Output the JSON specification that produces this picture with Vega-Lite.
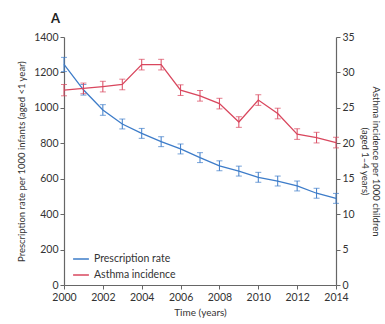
{
  "$schema": "https://vega.github.io/schema/vega-lite/v6.json",
  "autosize": "none",
  "width": 272,
  "height": 248,
  "padding": {"left": 64, "top": 37, "right": 49, "bottom": 39},
  "background": "white",
  "title": {"text": "A", "anchor": "start", "frame": "group", "dx": -13, "offset": 6, "fontSize": 13, "fontWeight": "bold", "font": "Lato", "color": "#222"},
  "config": {
    "view": {"stroke": null},
    "font": "Lato",
    "axis": {"grid": false, "domainColor": "#666", "tickColor": "#666", "domainWidth": 1.2, "tickWidth": 1, "tickSize": 4, "labelFontSize": 10.5, "labelColor": "#333", "titleFontSize": 9.5, "titleFontWeight": "normal", "titleColor": "#333", "labelFont": "Lato", "titleFont": "Lato"},
    "legend": {"labelFont": "Lato", "labelFontSize": 10.5, "labelColor": "#333"}
  },
  "data": {"values": [
    {"year": 2000, "rate": 1245, "rateLo": 1205, "rateHi": 1285, "asthma": 27.5, "asthmaLo": 26.7, "asthmaHi": 28.3},
    {"year": 2001, "rate": 1102, "rateLo": 1072, "rateHi": 1132, "asthma": 27.75, "asthmaLo": 27.0, "asthmaHi": 28.5},
    {"year": 2002, "rate": 988, "rateLo": 958, "rateHi": 1018, "asthma": 28.0, "asthmaLo": 27.25, "asthmaHi": 28.75},
    {"year": 2003, "rate": 909, "rateLo": 881, "rateHi": 937, "asthma": 28.3, "asthmaLo": 27.55, "asthmaHi": 29.05},
    {"year": 2004, "rate": 856, "rateLo": 828, "rateHi": 884, "asthma": 31.1, "asthmaLo": 30.35, "asthmaHi": 31.85},
    {"year": 2005, "rate": 809, "rateLo": 781, "rateHi": 837, "asthma": 31.1, "asthmaLo": 30.35, "asthmaHi": 31.85},
    {"year": 2006, "rate": 768, "rateLo": 740, "rateHi": 796, "asthma": 27.5, "asthmaLo": 26.75, "asthmaHi": 28.25},
    {"year": 2007, "rate": 719, "rateLo": 691, "rateHi": 747, "asthma": 26.7, "asthmaLo": 25.95, "asthmaHi": 27.45},
    {"year": 2008, "rate": 673, "rateLo": 645, "rateHi": 701, "asthma": 25.6, "asthmaLo": 24.85, "asthmaHi": 26.35},
    {"year": 2009, "rate": 643, "rateLo": 615, "rateHi": 671, "asthma": 23.0, "asthmaLo": 22.25, "asthmaHi": 23.75},
    {"year": 2010, "rate": 608, "rateLo": 580, "rateHi": 636, "asthma": 26.1, "asthmaLo": 25.35, "asthmaHi": 26.85},
    {"year": 2011, "rate": 587, "rateLo": 559, "rateHi": 615, "asthma": 24.2, "asthmaLo": 23.45, "asthmaHi": 24.95},
    {"year": 2012, "rate": 559, "rateLo": 531, "rateHi": 587, "asthma": 21.3, "asthmaLo": 20.55, "asthmaHi": 22.05},
    {"year": 2013, "rate": 518, "rateLo": 490, "rateHi": 546, "asthma": 20.8, "asthmaLo": 20.05, "asthmaHi": 21.55},
    {"year": 2014, "rate": 489, "rateLo": 461, "rateHi": 517, "asthma": 20.1, "asthmaLo": 19.35, "asthmaHi": 20.85}
  ]},
  "encoding": {
    "x": {"field": "year", "type": "quantitative", "scale": {"domain": [2000, 2014], "nice": false, "zero": false},
      "axis": {"values": [2000, 2002, 2004, 2006, 2008, 2010, 2012, 2014], "format": "d", "title": "Time (years)", "titleFontSize": 10, "labelPadding": 3, "titlePadding": 5, "labelFlush": false}}
  },
  "layer": [
    {
      "layer": [
        {"mark": {"type": "line", "strokeWidth": 1.3},
         "encoding": {
           "y": {"field": "rate", "type": "quantitative", "scale": {"domain": [0, 1400], "nice": false},
             "axis": {"orient": "left", "values": [0, 200, 400, 600, 800, 1000, 1200, 1400], "format": "d", "title": "Prescription rate per 1000 infants (aged <1 year)", "titlePadding": 7}},
           "color": {"datum": "Prescription rate", "type": "nominal",
             "scale": {"domain": ["Prescription rate", "Asthma incidence"], "range": ["#3d7cc9", "#d9475e"]},
             "legend": {"title": null, "orient": "none", "legendX": 8, "legendY": 213, "symbolType": "stroke", "symbolSize": 250, "symbolStrokeWidth": 1.5, "rowPadding": 1, "labelOffset": 4}}
         }},
        {"mark": {"type": "errorbar", "color": "#3d7cc9", "thickness": 1, "ticks": {"size": 6, "thickness": 1, "color": "#3d7cc9"}},
         "encoding": {
           "y": {"field": "rateLo", "type": "quantitative", "scale": {"domain": [0, 1400], "nice": false},
             "axis": {"orient": "left", "values": [0, 200, 400, 600, 800, 1000, 1200, 1400], "format": "d", "title": "Prescription rate per 1000 infants (aged <1 year)", "titlePadding": 7}},
           "y2": {"field": "rateHi"}
         }}
      ]
    },
    {
      "layer": [
        {"mark": {"type": "line", "strokeWidth": 1.3},
         "encoding": {
           "y": {"field": "asthma", "type": "quantitative", "scale": {"domain": [0, 35], "nice": false},
             "axis": {"orient": "right", "values": [0, 5, 10, 15, 20, 25, 30, 35], "format": "d", "title": ["Asthma incidence per 1000 children", "(aged 1\u20134 years)"], "titleAngle": 90, "titlePadding": 5, "titleLineHeight": 11}},
           "color": {"datum": "Asthma incidence", "type": "nominal"}
         }},
        {"mark": {"type": "errorbar", "color": "#d9475e", "thickness": 1, "ticks": {"size": 6, "thickness": 1, "color": "#d9475e"}},
         "encoding": {
           "y": {"field": "asthmaLo", "type": "quantitative", "scale": {"domain": [0, 35], "nice": false},
             "axis": {"orient": "right", "values": [0, 5, 10, 15, 20, 25, 30, 35], "format": "d", "title": ["Asthma incidence per 1000 children", "(aged 1\u20134 years)"], "titleAngle": 90, "titlePadding": 5, "titleLineHeight": 11}},
           "y2": {"field": "asthmaHi"}
         }}
      ]
    }
  ],
  "resolve": {"scale": {"y": "independent"}}
}
